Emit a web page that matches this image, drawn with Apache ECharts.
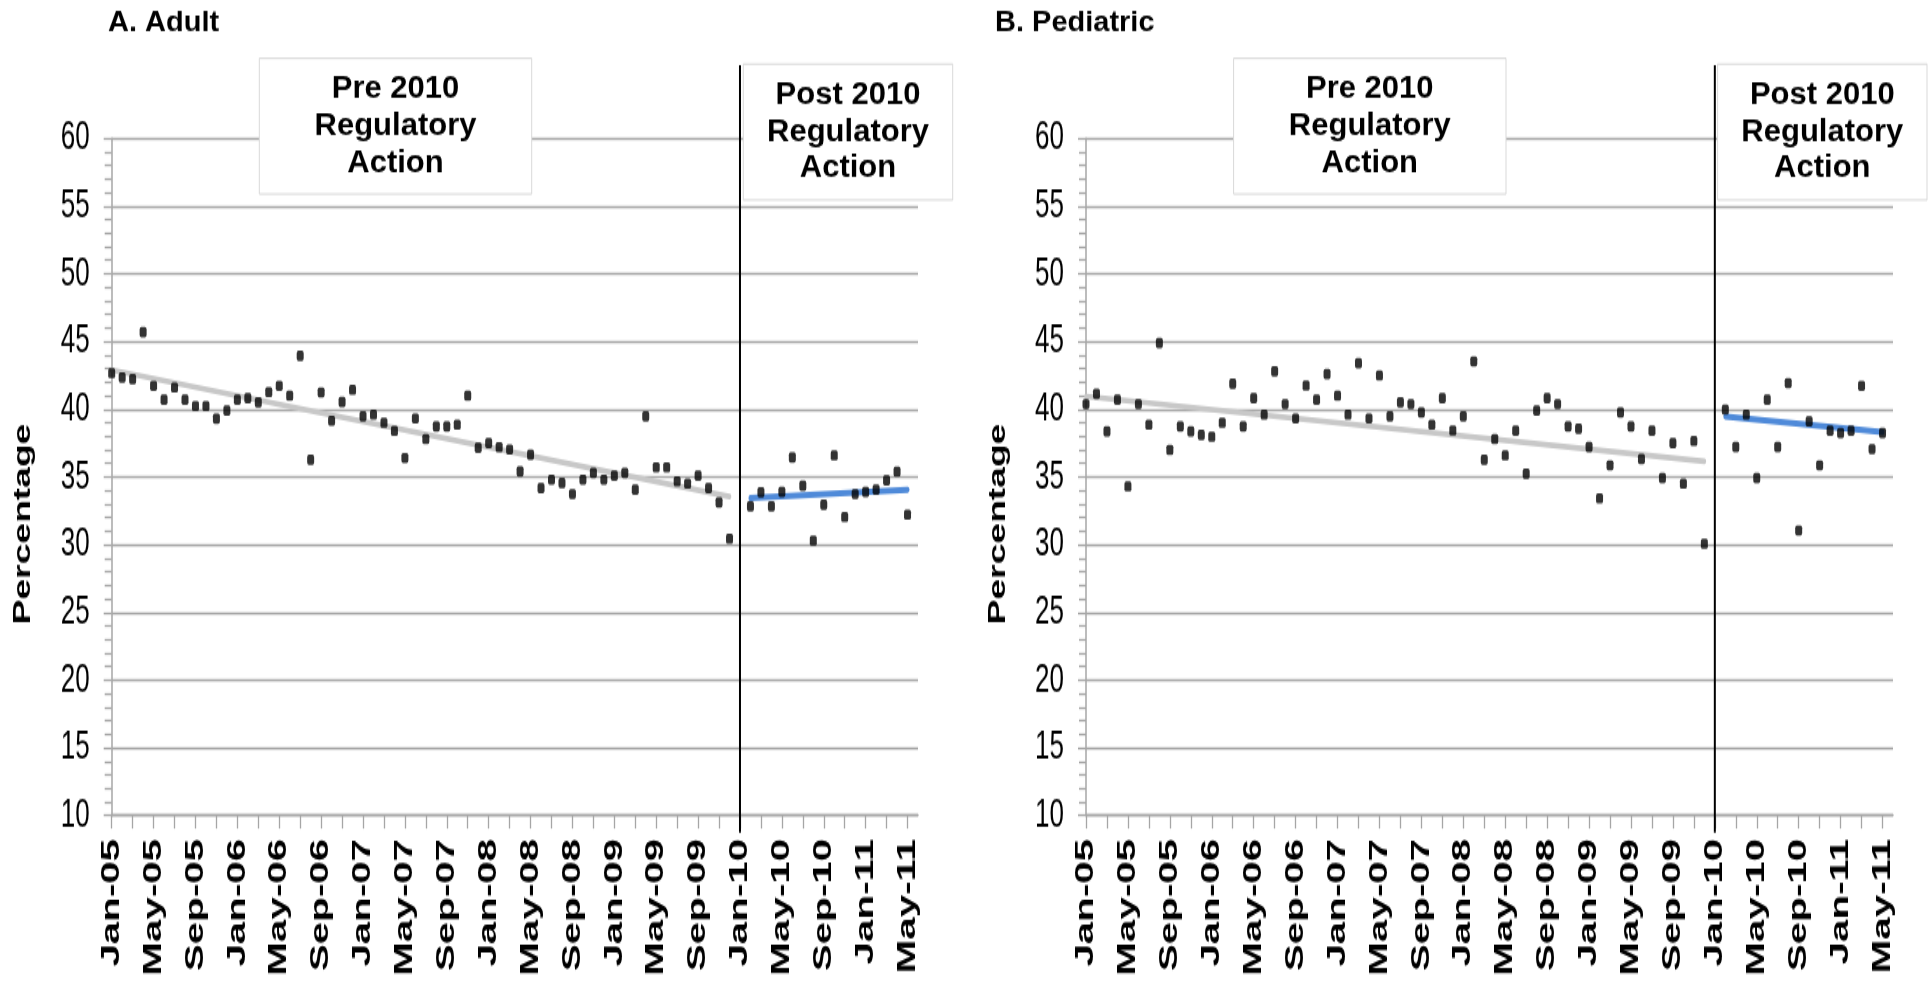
<!DOCTYPE html>
<html>
<head>
<meta charset="utf-8">
<title>Adult / Pediatric percentage, 2005-2011</title>
<script src="https://cdn.jsdelivr.net/npm/echarts@6/dist/echarts.min.js"></script>
<style>
    html { overflow: hidden; }
    html, body { margin: 0; padding: 0; background: #fff; width: 1931px; height: 985px; }
    /* the source figure is stretched vertically, so the chart is drawn flat and scaled */
    #chart { width: 1931px; height: 635px; transform: scaleY(1.5512); transform-origin: 0 0; }
</style>
</head>
<body>
<div id="chart"></div>
<script>
// month categories Jan-05 .. Jun-11 (axis runs one month past the last point)
const monthNames = ['Jan', 'Feb', 'Mar', 'Apr', 'May', 'Jun', 'Jul', 'Aug', 'Sep', 'Oct', 'Nov', 'Dec']
const years = ['05', '06', '07', '08', '09', '10', '11']
const categories = []
years.forEach(yy => {
    monthNames.forEach((m, i) => {
        if (yy === '11' && i > 5) return
        categories.push(m + '-' + yy)
    })
})

// A. Adult, Jan-05 .. Dec-09
const adultPre = [
    42.66, 42.34, 42.22, 45.69, 41.73, 40.7, 41.6, 40.7, 40.23, 40.23,
    39.3, 39.9, 40.7, 40.82, 40.5, 41.26, 41.73, 41.0, 43.94, 36.27,
    41.24, 39.15, 40.53, 41.43, 39.47, 39.6, 39.0, 38.4, 36.4, 39.32,
    37.8, 38.73, 38.73, 38.85, 41.0, 37.16, 37.5, 37.2, 37.03, 35.41,
    36.64, 34.18, 34.8, 34.55, 33.74, 34.8, 35.29, 34.8, 35.09, 35.29,
    34.06, 39.47, 35.71, 35.71, 34.67, 34.5, 35.09, 34.18, 33.12, 30.44
]
// A. Adult, Feb-10 .. May-11
const adultPost = [
    32.83, 33.86, 32.83, 33.89, 36.44, 34.35, 30.3, 32.95,
    36.59, 32.04, 33.74, 33.89, 34.06, 34.75, 35.39, 32.21
]
// B. Pediatric, Jan-05 .. Dec-09
const pedPre = [
    40.38, 41.14, 38.36, 40.7, 34.3, 40.38, 38.85, 44.88, 37.0, 38.73,
    38.36, 38.1, 37.97, 39.0, 41.88, 38.73, 40.82, 39.6, 42.79, 40.38,
    39.32, 41.75, 40.7, 42.6, 41.0, 39.6, 43.4, 39.32, 42.49, 39.47,
    40.5, 40.38, 39.76, 38.85, 40.82, 38.43, 39.47, 43.53, 36.27, 37.8,
    36.59, 38.41, 35.24, 39.9, 40.82, 40.38, 38.73, 38.56, 37.21, 33.42,
    35.86, 39.76, 38.73, 36.32, 38.41, 34.92, 37.5, 34.5, 37.65, 30.07
]
// B. Pediatric, Feb-10 .. May-11
const pedPost = [
    39.97, 37.21, 39.6, 34.92, 40.7, 37.21, 41.93, 31.05,
    39.1, 35.86, 38.41, 38.24, 38.41, 41.73, 37.06, 38.24
]

// trend lines, start / end values
const adultPreTrend = [['Jan-05', 42.9], ['Dec-09', 33.55]]
const adultPostTrend = [['Feb-10', 33.44], ['May-11', 34.06]]
const pedPreTrend = [['Jan-05', 40.94], ['Dec-09', 36.15]]
const pedPostTrend = [['Feb-10', 39.46], ['May-11', 38.31]]

// regulatory action divider
const divider = [['Jan-10', 65.4, 8.75]]

const PRE_START = categories.indexOf('Jan-05')
const POST_START = categories.indexOf('Feb-10')

const S = 1.5512
const FONT = '"Liberation Sans", Arial, sans-serif'
const GRID_GRAY = '#a6a6a6'

function toPairs(values, start) {
    return values.map((v, i) => [categories[start + i], v])
}

function renderDivider(params, api) {
    const top = api.coord([api.value(0), api.value(1)])
    const bottom = api.coord([api.value(0), api.value(2)])
    return {
        type: 'line',
        shape: { x1: top[0], y1: top[1], x2: bottom[0], y2: bottom[1] },
        style: { stroke: '#000', lineWidth: 2 }
    }
}

function makeXAxis(gridIndex) {
    return {
        type: 'category',
        gridIndex,
        data: categories,
        boundaryGap: false,
        axisLine: { lineStyle: { color: GRID_GRAY, width: 1.3 } },
        axisTick: { interval: 1, length: 8.4, lineStyle: { color: GRID_GRAY, width: 1.3 } },
        axisLabel: {
            interval: 3,
            rotate: 90,
            margin: 15,
            color: '#000',
            fontFamily: FONT,
            fontWeight: 'bold',
            fontSize: 26
        },
        splitLine: { show: false }
    }
}

function makeYAxis(gridIndex) {
    return {
        type: 'value',
        gridIndex,
        min: 10,
        max: 60,
        interval: 5,
        axisLine: { show: true, lineStyle: { color: GRID_GRAY, width: 1.5 } },
        axisTick: { show: true, length: 8, lineStyle: { color: GRID_GRAY, width: 1.3 } },
        minorTick: { show: true, splitNumber: 5, length: 7, lineStyle: { color: GRID_GRAY, width: 1.3 } },
        splitLine: { show: true, lineStyle: { color: GRID_GRAY, width: 1.3 } },
        axisLabel: { margin: 22, color: '#000', fontFamily: FONT, fontSize: 26 }
    }
}

function makeSeries(idx, pre, post, preTrend, postTrend) {
    return [
        {
            type: 'line',
            xAxisIndex: idx,
            yAxisIndex: idx,
            data: preTrend,
            symbol: 'none',
            silent: true,
            z: 2,
            lineStyle: { color: '#c8c8c8', width: 3.6, cap: 'round' }
        },
        {
            type: 'line',
            xAxisIndex: idx,
            yAxisIndex: idx,
            data: postTrend,
            symbol: 'none',
            silent: true,
            z: 2,
            lineStyle: { color: '#4f8ad9', width: 4, cap: 'round' }
        },
        {
            type: 'custom',
            xAxisIndex: idx,
            yAxisIndex: idx,
            data: divider,
            encode: { x: 0, y: [1, 2] },
            renderItem: renderDivider,
            silent: true,
            z: 3
        },
        {
            type: 'scatter',
            xAxisIndex: idx,
            yAxisIndex: idx,
            data: toPairs(pre, PRE_START).concat(toPairs(post, POST_START)),
            symbol: 'roundRect',
            symbolSize: [7, 6.6],
            itemStyle: { color: '#000' },
            z: 4
        }
    ]
}

// note box, pixel coords are on the real (stretched) page
function noteBox(x0, y0, x1, y1, text) {
    return [
        {
            type: 'rect',
            z: 10,
            shape: { x: x0, y: y0 / S, width: x1 - x0, height: (y1 - y0) / S },
            style: { fill: '#fff', stroke: '#d9d9d9', lineWidth: 1 }
        },
        {
            type: 'text',
            z: 11,
            x: (x0 + x1) / 2,
            y: (y0 + y1) / 2 / S,
            scaleY: 1 / S,
            style: {
                text,
                fill: '#000',
                fontFamily: FONT,
                fontWeight: 'bold',
                fontSize: 31,
                lineHeight: 37,
                align: 'center',
                verticalAlign: 'middle'
            }
        }
    ]
}

function panelTitle(x, text) {
    return {
        type: 'text',
        z: 11,
        x,
        y: 22.5 / S,
        scaleY: 1 / S,
        style: { text, fill: '#000', fontFamily: FONT, fontWeight: 'bold', fontSize: 29, verticalAlign: 'middle' }
    }
}

function yName(x) {
    return {
        type: 'text',
        z: 11,
        x,
        y: 524 / S,
        rotation: Math.PI / 2,
        style: {
            text: 'Percentage',
            fill: '#000',
            fontFamily: FONT,
            fontWeight: 'bold',
            fontSize: 24,
            align: 'center',
            verticalAlign: 'middle'
        }
    }
}

const chart = echarts.init(document.getElementById('chart'))

chart.setOption({
    animation: false,
    backgroundColor: '#fff',
    grid: [
        { left: 111.7, top: 138.3 / S, width: 806.3, height: (815.5 - 138.3) / S },
        { left: 1086, top: 138.3 / S, width: 807, height: (815.5 - 138.3) / S }
    ],
    xAxis: [makeXAxis(0), makeXAxis(1)],
    yAxis: [makeYAxis(0), makeYAxis(1)],
    series: makeSeries(0, adultPre, adultPost, adultPreTrend, adultPostTrend)
        .concat(makeSeries(1, pedPre, pedPost, pedPreTrend, pedPostTrend)),
    graphic: [
        panelTitle(108, 'A. Adult'),
        panelTitle(995, 'B. Pediatric'),
        yName(23),
        yName(998)
    ]
        .concat(noteBox(259.3, 58.3, 531.7, 194, 'Pre 2010\nRegulatory\nAction'))
        .concat(noteBox(743.3, 64, 952.7, 200, 'Post 2010\nRegulatory\nAction'))
        .concat(noteBox(1233.6, 58.3, 1506, 194, 'Pre 2010\nRegulatory\nAction'))
        .concat(noteBox(1717.6, 64, 1927, 200, 'Post 2010\nRegulatory\nAction'))
})
</script>
</body>
</html>
